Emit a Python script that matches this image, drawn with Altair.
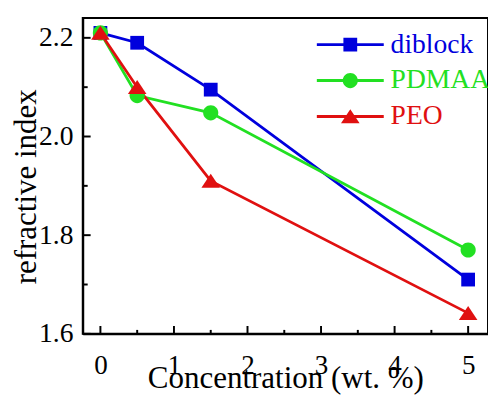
import altair as alt
import pandas as pd

conc = [0, 0.5, 1.5, 5]
diblock = [2.21, 2.19, 2.095, 1.71]
pdmaa = [2.21, 2.083, 2.048, 1.77]
peo = [2.21, 2.10, 1.91, 1.642]
series = ["diblock", "PDMAA", "PEO"]
colors = ["#0000dd", "#22e022", "#e01010"]

x_major = [0, 1, 2, 3, 4, 5]
x_minor = [0.5, 1.5, 2.5, 3.5, 4.5]
y_major = [1.6, 1.8, 2.0, 2.2]
y_minor = [1.7, 1.9, 2.1]

rows = []
for name, vals in zip(series, [diblock, pdmaa, peo]):
    for c, v in zip(conc, vals):
        rows.append({"series": name, "conc": c, "n": v})
df = pd.DataFrame(rows)

W, H = 412, 321
FONT = "Liberation Serif, Times New Roman, serif"

xs = alt.Scale(domain=[-0.24, 5.27], nice=False, zero=False)
ys = alt.Scale(domain=[1.6, 2.24], nice=False, zero=False)

sq = "M-1,-1H1V1H-1Z"
ci = "M-1.1,0A1.1,1.1 0 1,1 1.1,0A1.1,1.1 0 1,1 -1.1,0Z"
tr = "M0,-1.05L1.35,1H-1.35Z"
bar = "M-4.86,-0.21H4.86V0.21H-4.86Z "
shapes = [sq, ci, tr]

x_axis = alt.Axis(
    values=x_major, format="d", title="Concentration (wt. %)", ticks=False, tickSize=0,
    labelFont=FONT, labelFontSize=27.5, labelPadding=18,
    titleFont=FONT, titleFontSize=31.5, titleBaseline="alphabetic", titleY=55)
y_axis = alt.Axis(
    values=y_major, format=".1f", title="refractive index", ticks=False, tickSize=0,
    labelFont=FONT, labelFontSize=28, labelPadding=10,
    titleFont=FONT, titleFontSize=31.5, titleBaseline="alphabetic",
    titleX=-48, titleY=171, titleAngle=270)


def X(f):
    return alt.X(f, type="quantitative", scale=xs, axis=x_axis)


def Y(f):
    return alt.Y(f, type="quantitative", scale=ys, axis=y_axis)


lines = alt.Chart(df).mark_line(strokeWidth=2.8).encode(
    x=X("conc"), y=Y("n"),
    color=alt.Color("series:N", scale=alt.Scale(domain=series, range=colors), legend=None),
    detail="series:N",
)

points = alt.Chart(df).mark_point(filled=True, size=196, opacity=1).encode(
    x=X("conc"), y=Y("n"),
    color=alt.Color("series:N", scale=alt.Scale(domain=series, range=colors), legend=None),
    shape=alt.Shape("series:N", scale=alt.Scale(domain=series, range=shapes), legend=None),
)

legend_layers = []
for i, (name, col, shp) in enumerate(zip(series, colors, shapes)):
    leg = dict(orient="none", legendX=258, legendY=13 + 36.5 * i, title=None,
               labelFont=FONT, labelFontSize=28, labelOffset=27, padding=0,
               symbolSize=196, symbolStrokeWidth=0, labelColor=col)
    legend_layers.append(
        alt.Chart(df).transform_filter("datum.conc < -100").mark_point(
            filled=True, size=196, opacity=1).encode(
            x=X("conc"), y=Y("n"),
            color=alt.Color("series:N", scale=alt.Scale(domain=[name], range=[col]),
                            legend=alt.Legend(**leg)),
            shape=alt.Shape("series:N", scale=alt.Scale(domain=[name], range=[bar + shp]),
                            legend=alt.Legend(**leg)),
        )
    )

xmaj = pd.DataFrame({"v": x_major})
xmin = pd.DataFrame({"v": x_minor})
ymaj = pd.DataFrame({"v": y_major})
ymin = pd.DataFrame({"v": y_minor})

tick_x_major = alt.Chart(xmaj).mark_rule(color="black", strokeWidth=2).encode(
    x=X("v"), y=alt.value(H), y2=alt.value(H - 8))
tick_x_minor = alt.Chart(xmin).mark_rule(color="black", strokeWidth=2).encode(
    x=X("v"), y=alt.value(H), y2=alt.value(H - 4))
tick_y_major = alt.Chart(ymaj).mark_rule(color="black", strokeWidth=2).encode(
    y=Y("v"), x=alt.value(0), x2=alt.value(8))
tick_y_minor = alt.Chart(ymin).mark_rule(color="black", strokeWidth=2).encode(
    y=Y("v"), x=alt.value(0), x2=alt.value(5))

chart = alt.layer(
    lines, tick_x_major, tick_x_minor, tick_y_major, tick_y_minor, points, *legend_layers
).resolve_scale(color="independent", shape="independent").properties(
    width=W, height=H,
    autosize=alt.AutoSizeParams(type="none"),
    padding={"left": 76, "top": 7, "right": 0, "bottom": 65},
).configure(font=FONT).configure_view(stroke="black", strokeWidth=2).configure_axis(
    grid=False, domainColor="black", domainWidth=2,
    labelFont=FONT, labelFontSize=28, labelColor="black",
    titleFont=FONT, titleFontSize=31.5, titleColor="black", titleFontWeight="normal",
).configure_legend(labelFont=FONT)

chart.save("out.html", embed_options={"renderer": "svg", "actions": False})
